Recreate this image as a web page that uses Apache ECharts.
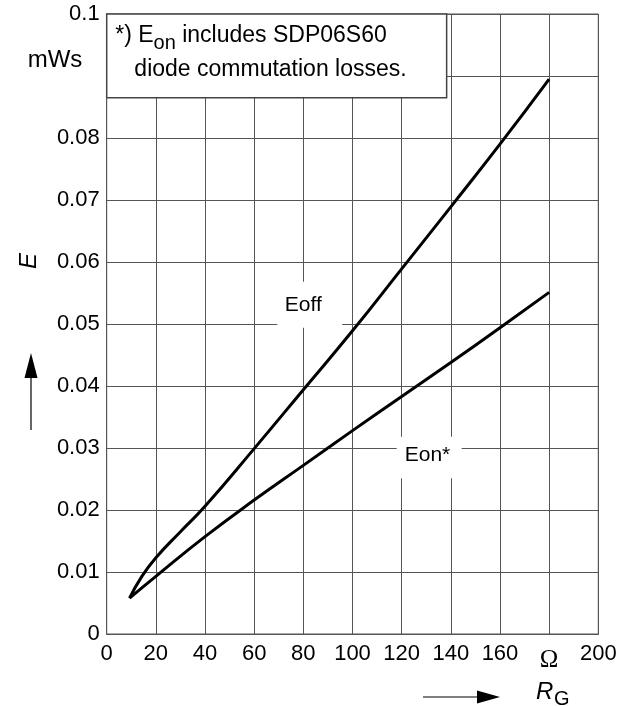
<!DOCTYPE html>
<html><head><meta charset="utf-8">
<script src="https://cdn.jsdelivr.net/npm/echarts@6/dist/echarts.min.js"></script>
<style>html,body{margin:0;padding:0;background:#fff}#c{width:630px;height:706px}</style>
</head><body><div id="c"></div>
<script>
// ---- data ----
const rgOff = [9.3, 14, 20, 30, 40, 60, 80, 100, 120, 140, 160, 180];
const eOff  = [0.0058, 0.0091, 0.0123, 0.0165, 0.0206, 0.0299, 0.0394, 0.0489, 0.0589, 0.0689, 0.0790, 0.0895];
const rgOn  = [9.3, 20, 40, 60, 80, 100, 120, 140, 160, 180];
const eOn   = [0.0058, 0.0093, 0.0157, 0.0216, 0.0272, 0.0328, 0.0383, 0.0438, 0.0494, 0.0551];
const xTickLabels = ['0','20','40','60','80','100','120','140','160','{om|Ω}','200'];
const yTickLabels = ['0','0.01','0.02','0.03','0.04','0.05','0.06','0.07','0.08','','0.1'];
const FONT = "'Liberation Sans', Arial, sans-serif";
const GRID_COLOR = '#555';

const chart = echarts.init(document.getElementById('c'), null, {renderer:'canvas'});
chart.setOption({
  animation:false,
  backgroundColor:'#fff',
  grid:{left:106.7, right:31.7, top:14, bottom:72, show:true, borderColor:GRID_COLOR, borderWidth:1},
  xAxis:{
    type:'value', min:0, max:200, interval:20,
    axisLine:{show:true, lineStyle:{color:GRID_COLOR, width:1}},
    axisTick:{show:false},
    splitLine:{show:true, lineStyle:{color:GRID_COLOR, width:1}},
    axisLabel:{
      color:'#000', fontFamily:FONT, fontSize:22, margin:9,
      formatter:v=>xTickLabels[Math.round(v/20)],
      rich:{om:{fontFamily:"'Liberation Serif', 'DejaVu Serif', serif", fontSize:25, color:'#000', padding:[5,0,0,0]}}
    }
  },
  yAxis:{
    type:'value', min:0, max:0.1, interval:0.01,
    axisLine:{show:true, lineStyle:{color:GRID_COLOR, width:1}},
    axisTick:{show:false},
    splitLine:{show:true, lineStyle:{color:GRID_COLOR, width:1}},
    axisLabel:{
      color:'#000', fontFamily:FONT, fontSize:22, margin:7,
      formatter:v=>yTickLabels[Math.round(v/0.01)]
    }
  },
  series:[
    {name:'Eoff', type:'line', data:rgOff.map((x,i)=>[x,eOff[i]]), smooth:0.5, symbol:'none',
     lineStyle:{color:'#000', width:3}, z:5},
    {name:'Eon*', type:'line', data:rgOn.map((x,i)=>[x,eOn[i]]), smooth:0.5, symbol:'none',
     lineStyle:{color:'#000', width:3}, z:5}
  ]
});

const p = (x,y)=>chart.convertToPixel({gridIndex:0},[x,y]);
const b0 = p(0,0.1), b1 = p(138.3,0.0865);
const lo0 = p(69.4,0.0568), lo1 = p(95.8,0.0494), lot = p(80,0.05306);
const ln0 = p(118,0.03182), ln1 = p(144.4,0.02511), lnt = p(130.5,0.02887);

chart.setOption({graphic:[
  // note box
  {type:'rect', z:10, shape:{x:b0[0], y:b0[1], width:b1[0]-b0[0], height:b1[1]-b0[1]},
   style:{fill:'#fff', stroke:'#444', lineWidth:1.5}},
  {type:'text', z:11, x:b0[0]+8.5, y:b0[1]+5,
   style:{text:'{n|*) E}{s|on}{n| includes SDP06S60}\n{n|   diode commutation losses.}',
     fill:'#000', font:'23px '+FONT, verticalAlign:'top',
     rich:{n:{fontSize:23, fontFamily:FONT, lineHeight:34, fill:'#000'},
           s:{fontSize:20, fontFamily:FONT, lineHeight:22, padding:[14,0,0,0], fill:'#000'}}}},
  // curve labels
  {type:'rect', z:10, shape:{x:lo0[0], y:lo0[1], width:lo1[0]-lo0[0], height:lo1[1]-lo0[1]}, style:{fill:'#fff'}},
  {type:'text', z:11, x:lot[0], y:lot[1], style:{text:'Eoff', fill:'#000', font:'21px '+FONT, align:'center', verticalAlign:'middle'}},
  {type:'rect', z:10, shape:{x:ln0[0], y:ln0[1], width:ln1[0]-ln0[0], height:ln1[1]-ln0[1]}, style:{fill:'#fff'}},
  {type:'text', z:11, x:lnt[0], y:lnt[1], style:{text:'Eon*', fill:'#000', font:'21px '+FONT, align:'center', verticalAlign:'middle'}},
  // unit and axis titles
  {type:'text', x:55, y:60, style:{text:'mWs', fill:'#000', font:'24px '+FONT, align:'center', verticalAlign:'middle'}},
  {type:'text', x:29, y:261, rotation:Math.PI/2, style:{text:'E', fill:'#000', font:'italic 24px '+FONT, align:'center', verticalAlign:'middle'}},
  {type:'line', shape:{x1:31, y1:430, x2:31, y2:376}, style:{stroke:'#000', lineWidth:1.2}},
  {type:'polygon', shape:{points:[[31,353],[24.5,378],[37.5,378]]}, style:{fill:'#000'}},
  {type:'line', shape:{x1:423, y1:697, x2:479, y2:697}, style:{stroke:'#000', lineWidth:1.2}},
  {type:'polygon', shape:{points:[[500,697],[477,690.5],[477,703.5]]}, style:{fill:'#000'}},
  {type:'text', x:536, y:692, style:{text:'R', fill:'#000', font:'italic 24px '+FONT, align:'left', verticalAlign:'middle'}},
  {type:'text', x:554, y:699, style:{text:'G', fill:'#000', font:'20px '+FONT, align:'left', verticalAlign:'middle'}}
]});
</script></body></html>
